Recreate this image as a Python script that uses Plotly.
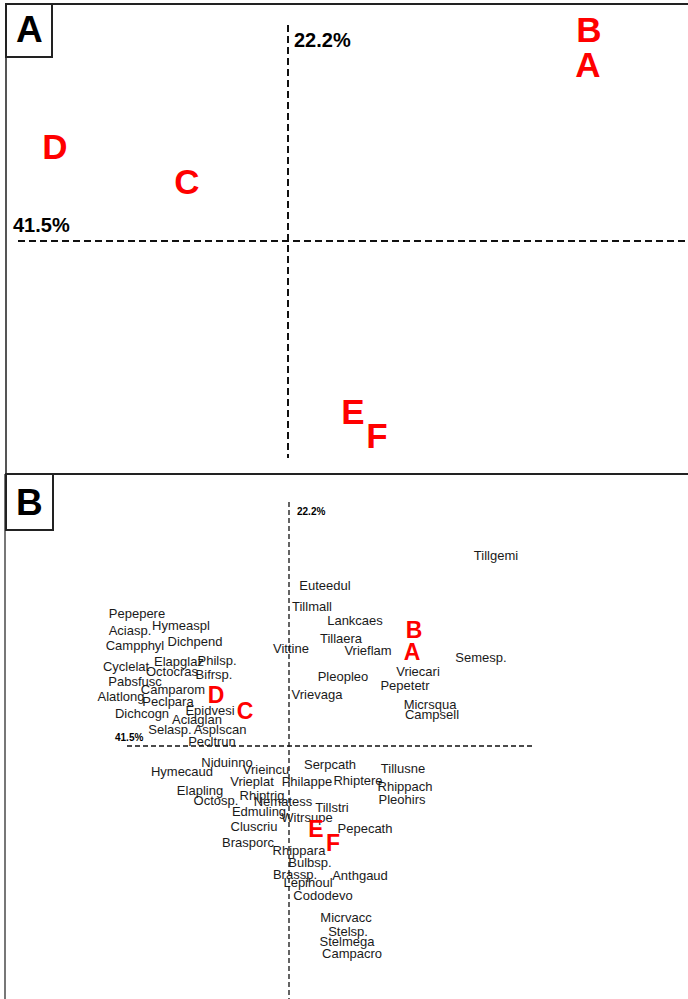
import plotly.graph_objects as go

# ---- Panel A: site scores on the first two ordination axes ----
site_labels = ["B", "A", "D", "C", "E", "F"]
site_ax1_a = [3.01, 3.00, -2.33, -1.01, 0.65, 0.89]
site_ax2_a = [2.08, 1.73, 0.91, 0.56, -1.74, -1.98]

# ---- Panel B: biplot of sites and species ----
site_ax1_b = [1.25, 1.23, -0.73, -0.44, 0.27, 0.44]
site_ax2_b = [1.14, 0.92, 0.49, 0.33, -0.85, -0.99]

species = [
    "Tillgemi", "Euteedul", "Tillmall", "Lankcaes", "Tillaera", "Vittine",
    "Vrieflam", "Semesp.", "Vriecari", "Pleopleo", "Pepetetr", "Vrievaga",
    "Micrsqua", "Campsell", "Pepepere", "Aciasp.", "Hymeaspl", "Campphyl",
    "Dichpend", "Cyclelat", "Elapglaz", "Philsp.", "Octocras", "Bifrsp.",
    "Pabsfusc", "Camparom", "Alatlong", "Peclpara", "Dichcogn", "Epidvesi",
    "Aciaglan", "Selasp.", "Asplscan", "Pecltrun", "Niduinno", "Hymecaud",
    "Vrieincu", "Serpcath", "Tillusne", "Vrieplat", "Philappe", "Rhiptere",
    "Rhippach", "Elapling", "Rhiptrig", "Octosp.", "Nematess", "Pleohirs",
    "Tillstri", "Edmuling", "Witrsupe", "Cluscriu", "Pepecath", "Brasporc",
    "Rhippara", "Bulbsp.", "Brassp.", "Anthgaud", "Lepihoul", "Cododevo",
    "Micrvacc", "Stelsp.", "Stelmega", "Campacro",
]
species_ax1 = [
    2.07, 0.36, 0.23, 0.66, 0.52, 0.02,
    0.79, 1.92, 1.29, 0.54, 1.16, 0.28,
    1.41, 1.43, -1.52, -1.59, -1.08, -1.54,
    -0.94, -1.63, -1.10, -0.72, -1.17, -0.75,
    -1.54, -1.16, -1.68, -1.21, -1.47, -0.79,
    -0.92, -1.19, -0.69, -0.77, -0.62, -1.07,
    -0.23, 0.41, 1.14, -0.37, 0.18, 0.69,
    1.16, -0.89, -0.27, -0.73, -0.06, 1.13,
    0.43, -0.30, 0.18, -0.35, 0.76, -0.41,
    0.10, 0.21, 0.06, 0.71, 0.19, 0.34,
    0.57, 0.59, 0.58, 0.63,
]
species_ax2 = [
    1.89, 1.59, 1.38, 1.24, 1.06, 0.96,
    0.94, 0.87, 0.73, 0.68, 0.59, 0.50,
    0.40, 0.30, 1.31, 1.14, 1.19, 0.99,
    1.03, 0.78, 0.83, 0.84, 0.73, 0.70,
    0.63, 0.55, 0.48, 0.43, 0.31, 0.34,
    0.25, 0.15, 0.15, 0.03, -0.18, -0.27,
    -0.25, -0.20, -0.24, -0.37, -0.37, -0.36,
    -0.42, -0.46, -0.51, -0.56, -0.57, -0.55,
    -0.63, -0.67, -0.73, -0.82, -0.84, -0.98,
    -1.06, -1.18, -1.30, -1.31, -1.38, -1.51,
    -1.73, -1.87, -1.97, -2.09,
]

axis1_label = "41.5%"
axis2_label = "22.2%"

FONT = "Arial, 'Liberation Sans', sans-serif"
RED = "#ff0000"
W, H = 688, 999


def px(x):
    return x / W


def py(y):
    return 1 - y / H


fig = go.Figure()

# Panel A sites
fig.add_trace(go.Scatter(
    x=site_ax1_a, y=site_ax2_a, text=site_labels, mode="text",
    textposition="middle center", cliponaxis=False,
    textfont=dict(family=FONT, size=35, color=RED, weight="bold"),
    xaxis="x", yaxis="y", hoverinfo="skip", showlegend=False,
))

# Panel B species
fig.add_trace(go.Scatter(
    x=species_ax1, y=species_ax2, text=species, mode="text",
    textposition="middle center", cliponaxis=False,
    textfont=dict(family=FONT, size=13, color="#1a1a1a"),
    xaxis="x2", yaxis="y2", hoverinfo="skip", showlegend=False,
))

# Panel B sites
fig.add_trace(go.Scatter(
    x=site_ax1_b, y=site_ax2_b, text=site_labels, mode="text",
    textposition="middle center", cliponaxis=False,
    textfont=dict(family=FONT, size=23, color=RED, weight="bold"),
    xaxis="x2", yaxis="y2", hoverinfo="skip", showlegend=False,
))

hidden = dict(visible=False, showgrid=False, zeroline=False, fixedrange=True)
split = py(474)

fig.update_layout(
    width=W, height=H, autosize=False,
    margin=dict(l=0, r=0, t=0, b=0),
    paper_bgcolor="white", plot_bgcolor="white",
    xaxis=dict(domain=[0, 1], range=[-2.88, 4.00], anchor="y", **hidden),
    yaxis=dict(domain=[split, 1], range=[-2.33, 2.41], anchor="x", **hidden),
    xaxis2=dict(domain=[0, 1], range=[-2.89, 3.99], anchor="y2", **hidden),
    yaxis2=dict(domain=[0, split], range=[-2.53, 2.72], anchor="x2", **hidden),
)

shapes = []
# Dashed ordination axes, panel A
shapes.append(dict(type="line", xref="x", yref="y", x0=0, x1=0, y0=2.16, y1=-2.17,
                   line=dict(color="#111", width=2, dash="7px,4px")))
shapes.append(dict(type="line", xref="x", yref="y", x0=-2.70, x1=4.2, y0=0, y1=0,
                   line=dict(color="#111", width=2, dash="7px,4px")))
# Dashed ordination axes, panel B
shapes.append(dict(type="line", xref="x2", yref="y2", x0=0, x1=0, y0=2.44, y1=-2.6,
                   line=dict(color="#111", width=1.3, dash="5px,3px")))
shapes.append(dict(type="line", xref="x2", yref="y2", x0=-1.62, x1=2.46, y0=0, y1=0,
                   line=dict(color="#111", width=1.3, dash="5px,3px")))

# Panel frames
frame = dict(color="#222", width=2)
shapes.append(dict(type="line", xref="paper", yref="paper",
                   x0=px(6), x1=1.01, y0=py(4), y1=py(4), line=frame))
shapes.append(dict(type="line", xref="paper", yref="paper",
                   x0=px(6), x1=px(6), y0=py(4), y1=py(474), line=dict(color="#555", width=2)))
shapes.append(dict(type="line", xref="paper", yref="paper",
                   x0=px(5), x1=1.01, y0=py(474), y1=py(474), line=frame))
shapes.append(dict(type="line", xref="paper", yref="paper",
                   x0=px(5), x1=px(5), y0=py(474), y1=-0.01, line=dict(color="#777", width=2)))
# Panel letter boxes
shapes.append(dict(type="rect", xref="paper", yref="paper",
                   x0=px(6), x1=px(52), y0=py(4), y1=py(57),
                   line=frame, fillcolor="white"))
shapes.append(dict(type="rect", xref="paper", yref="paper",
                   x0=px(6), x1=px(53), y0=py(474), y1=py(530),
                   line=frame, fillcolor="white"))
fig.update_layout(shapes=shapes)

annotations = [
    dict(text="<b>A</b>", xref="paper", yref="paper", x=px(29), y=py(30),
         xanchor="center", yanchor="middle", showarrow=False,
         font=dict(family=FONT, size=37, color="black")),
    dict(text="<b>B</b>", xref="paper", yref="paper", x=px(29.5), y=py(502),
         xanchor="center", yanchor="middle", showarrow=False,
         font=dict(family=FONT, size=37, color="black")),
    # axis variance labels, panel A
    dict(text="<b>" + axis2_label + "</b>", xref="x", yref="y", x=0.04, y=2.01,
         xanchor="left", yanchor="middle", showarrow=False,
         font=dict(family=FONT, size=20, color="black")),
    dict(text="<b>" + axis1_label + "</b>", xref="x", yref="y", x=-2.77, y=0.16,
         xanchor="left", yanchor="middle", showarrow=False,
         font=dict(family=FONT, size=20, color="black")),
    # axis variance labels, panel B
    dict(text="<b>" + axis2_label + "</b>", xref="x2", yref="y2", x=0.06, y=2.34,
         xanchor="left", yanchor="middle", showarrow=False,
         font=dict(family=FONT, size=10, color="black")),
    dict(text="<b>" + axis1_label + "</b>", xref="x2", yref="y2", x=-1.76, y=0.09,
         xanchor="left", yanchor="middle", showarrow=False,
         font=dict(family=FONT, size=10, color="black")),
]
fig.update_layout(annotations=annotations)

fig.write_html("out.html")
